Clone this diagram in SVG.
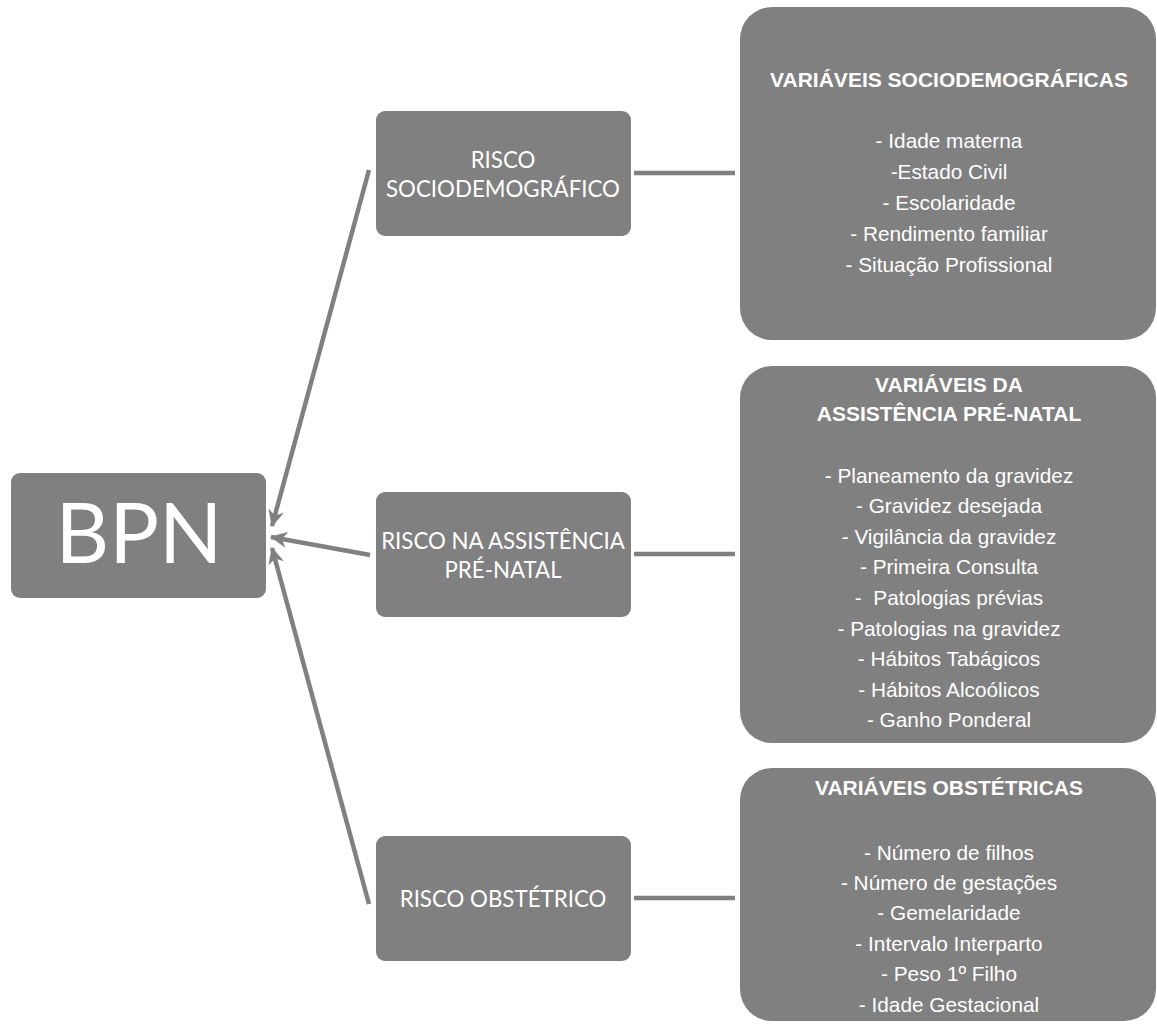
<svg xmlns="http://www.w3.org/2000/svg" width="1157" height="1024" viewBox="0 0 1157 1024">
<style>
.box{fill:#808080}
.risk{font-family:Lato,"Liberation Sans",sans-serif;font-size:22.3px;fill:#fff;text-anchor:middle}
.big{font-family:Lato,"Liberation Sans",sans-serif;font-size:83px;fill:#fff;text-anchor:middle}
.hd{font-family:"Liberation Sans",Arial,sans-serif;font-size:21px;font-weight:bold;fill:#fff;text-anchor:middle}
.it{font-family:"Liberation Sans",Arial,sans-serif;font-size:20.8px;fill:#fff;text-anchor:middle}
.conn{stroke:#808080;stroke-width:4.5;fill:none}
</style>
<defs>
<marker id="ah" markerUnits="userSpaceOnUse" markerWidth="18" markerHeight="16" refX="16" refY="8" orient="auto">
<path d="M0,0 L17,8 L0,16 L5,8 z" fill="#808080"/>
</marker>
</defs>
<rect width="1157" height="1024" fill="#fff"/>
<g id="connectors">
<line class="conn" x1="369" y1="170" x2="272" y2="526" marker-end="url(#ah)"/>
<line class="conn" x1="370" y1="555" x2="271" y2="537" marker-end="url(#ah)"/>
<line class="conn" x1="369" y1="904" x2="272" y2="548" marker-end="url(#ah)"/>
<line class="conn" x1="634" y1="173" x2="735" y2="173"/>
<line class="conn" x1="634" y1="554" x2="735" y2="554"/>
<line class="conn" x1="634" y1="898" x2="735" y2="898"/>
</g>
<g id="bpn">
<rect class="box" x="11" y="473" width="255" height="125" rx="9"/>
<text class="big" x="139" y="563">BPN</text>
</g>
<g id="risco-socio">
<rect class="box" x="376" y="111" width="255" height="125" rx="9"/>
<text class="risk" x="503" y="168">RISCO</text>
<text class="risk" x="503" y="197">SOCIODEMOGRÁFICO</text>
</g>
<g id="risco-assist">
<rect class="box" x="376" y="492" width="255" height="125" rx="9"/>
<text class="risk" x="503" y="549">RISCO NA ASSISTÊNCIA</text>
<text class="risk" x="503" y="578">PRÉ-NATAL</text>
</g>
<g id="risco-obst">
<rect class="box" x="376" y="836" width="255" height="125" rx="9"/>
<text class="risk" x="503" y="907">RISCO OBSTÉTRICO</text>
</g>
<g id="var-socio">
<rect class="box" x="740" y="7" width="416" height="333" rx="32"/>
<text class="hd" x="949" y="87">VARIÁVEIS SOCIODEMOGRÁFICAS</text>
<text class="it" x="949" y="148">- Idade materna</text>
<text class="it" x="949" y="179">-Estado Civil</text>
<text class="it" x="949" y="210">- Escolaridade</text>
<text class="it" x="949" y="241">- Rendimento familiar</text>
<text class="it" x="949" y="272">- Situação Profissional</text>
</g>
<g id="var-assist">
<rect class="box" x="740" y="366" width="416" height="377" rx="32"/>
<text class="hd" x="949" y="392">VARIÁVEIS DA</text>
<text class="hd" x="949" y="421">ASSISTÊNCIA PRÉ-NATAL</text>
<text class="it" x="949" y="483">- Planeamento da gravidez</text>
<text class="it" x="949" y="513">- Gravidez desejada</text>
<text class="it" x="949" y="544">- Vigilância da gravidez</text>
<text class="it" x="949" y="574">- Primeira Consulta</text>
<text class="it" x="949" y="605" xml:space="preserve">-  Patologias prévias</text>
<text class="it" x="949" y="636">- Patologias na gravidez</text>
<text class="it" x="949" y="666">- Hábitos Tabágicos</text>
<text class="it" x="949" y="697">- Hábitos Alcoólicos</text>
<text class="it" x="949" y="727">- Ganho Ponderal</text>
</g>
<g id="var-obst">
<rect class="box" x="740" y="768" width="416" height="253" rx="32"/>
<text class="hd" x="949" y="795">VARIÁVEIS OBSTÉTRICAS</text>
<text class="it" x="949" y="860">- Número de filhos</text>
<text class="it" x="949" y="890">- Número de gestações</text>
<text class="it" x="949" y="920">- Gemelaridade</text>
<text class="it" x="949" y="951">- Intervalo Interparto</text>
<text class="it" x="949" y="981">- Peso 1º Filho</text>
<text class="it" x="949" y="1012">- Idade Gestacional</text>
</g>
</svg>
